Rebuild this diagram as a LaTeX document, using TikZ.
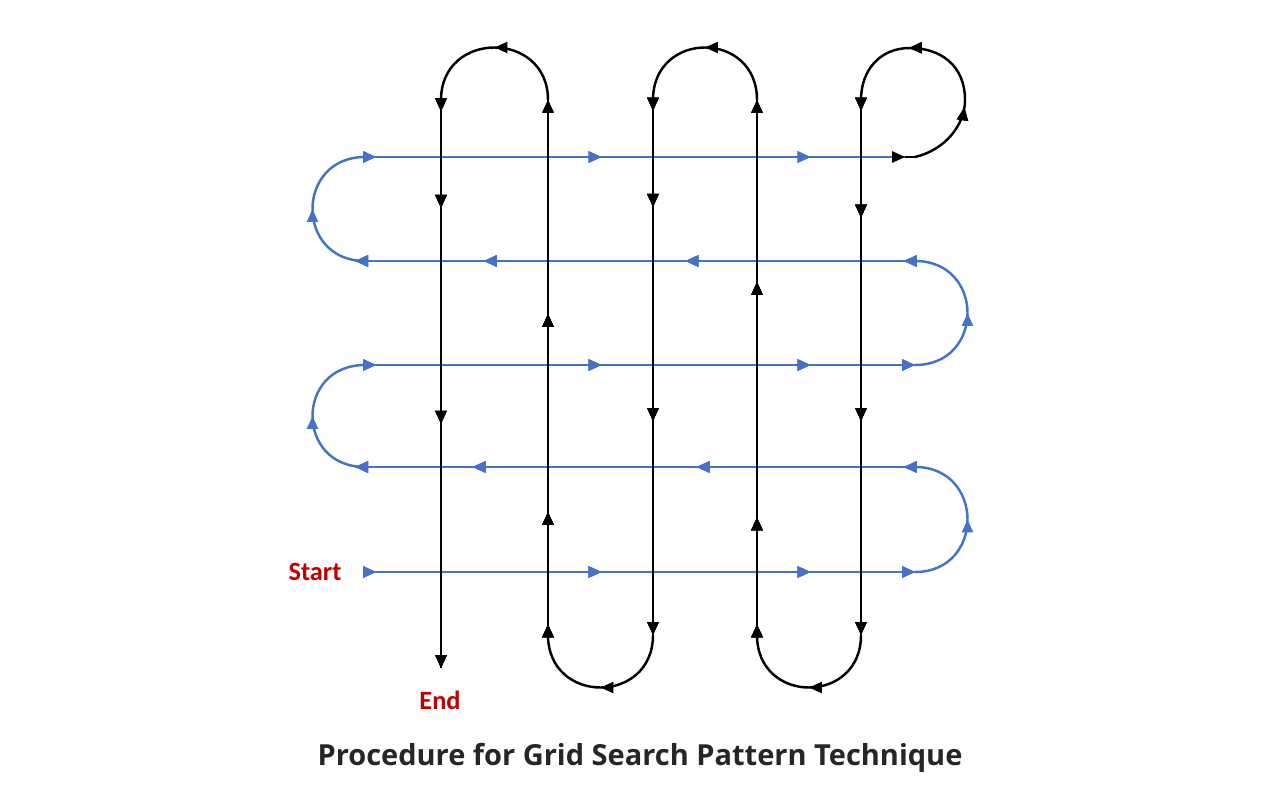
\documentclass[tikz,border=0pt]{standalone}
\usepackage{fontspec}
\setmainfont{Carlito}
\newfontfamily\titlefont{Open Sans}
\usetikzlibrary{arrows.meta,decorations.markings}
\definecolor{bl}{RGB}{68,114,196}
\definecolor{rd}{RGB}{192,0,0}
\tikzset{
  ar/.style={postaction={decorate},decoration={markings,mark=at position #1 with {\arrow{Triangle[length=0.26cm,width=0.22cm]}}}},
  bline/.style={draw=bl,line width=1.4pt},
  kline/.style={draw=black,line width=1.4pt},
  lab/.style={text=rd,font=\bfseries\fontsize{15}{15}\selectfont}
}
\begin{document}
\begin{tikzpicture}[x=0.02cm,y=-0.02cm]
\useasboundingbox (0,0) rectangle (1280,800);
% blue rows
\draw[bline,ar=0.02,ar=0.43,ar=0.81,ar=1.0] (365,572) -- (915,572);
\draw[bline,ar=0.5] (915,572) .. controls (985,572) and (985,467) .. (915,467);
\draw[bline,ar=0.02,ar=0.39,ar=0.79,ar=1.0] (915,467) -- (355,467);
\draw[bline,ar=0.5] (365,467) .. controls (295,467) and (295,365) .. (365,365);
\draw[bline,ar=0.02,ar=0.43,ar=0.81,ar=1.0] (365,365) -- (915,365);
\draw[bline,ar=0.5] (915,365) .. controls (985,365) and (985,261) .. (915,261);
\draw[bline,ar=0.02,ar=0.41,ar=0.77,ar=1.0] (915,261) -- (355,261);
\draw[bline,ar=0.5] (365,261) .. controls (295,261) and (295,157) .. (365,157);
\draw[bline,ar=0.02,ar=0.43,ar=0.81] (365,157) -- (915,157);
% black path
\draw[kline,ar=0.02] (905,157) -- (915,157);
\draw[kline,ar=0.3,ar=0.68] (915,157) .. controls (945,150) and (965,125) .. (965,100) .. controls (965,65) and (940,48) .. (910,48) .. controls (880,48) and (861,70) .. (861,100);
\draw[kline,ar=0.02,ar=0.22,ar=0.6,ar=1.0] (861,100) -- (861,635);
\draw[kline,ar=0.5] (861,635) .. controls (861,705) and (757,705) .. (757,635);
\draw[kline,ar=0.02,ar=0.22,ar=0.66,ar=1.0] (757,635) -- (757,100);
\draw[kline,ar=0.5] (757,100) .. controls (757,30) and (653,30) .. (653,100);
\draw[kline,ar=0.02,ar=0.2,ar=0.6,ar=1.0] (653,100) -- (653,635);
\draw[kline,ar=0.5] (653,635) .. controls (653,705) and (548,705) .. (548,635);
\draw[kline,ar=0.02,ar=0.23,ar=0.6,ar=1.0] (548,635) -- (548,100);
\draw[kline,ar=0.5] (548,100) .. controls (548,30) and (441,30) .. (441,100);
\draw[kline,ar=0.02,ar=0.19,ar=0.57,ar=1.0] (441,100) -- (441,668);
\node[lab] (start) at (315,572) {Start};
\node[lab] (end) at (440,700) {End};
\node[font=\titlefont\fontsize{16.5}{16.5}\selectfont\bfseries,text=black!85] (title) at (640,758) {Procedure for Grid Search Pattern Technique};
\end{tikzpicture}
\end{document}
